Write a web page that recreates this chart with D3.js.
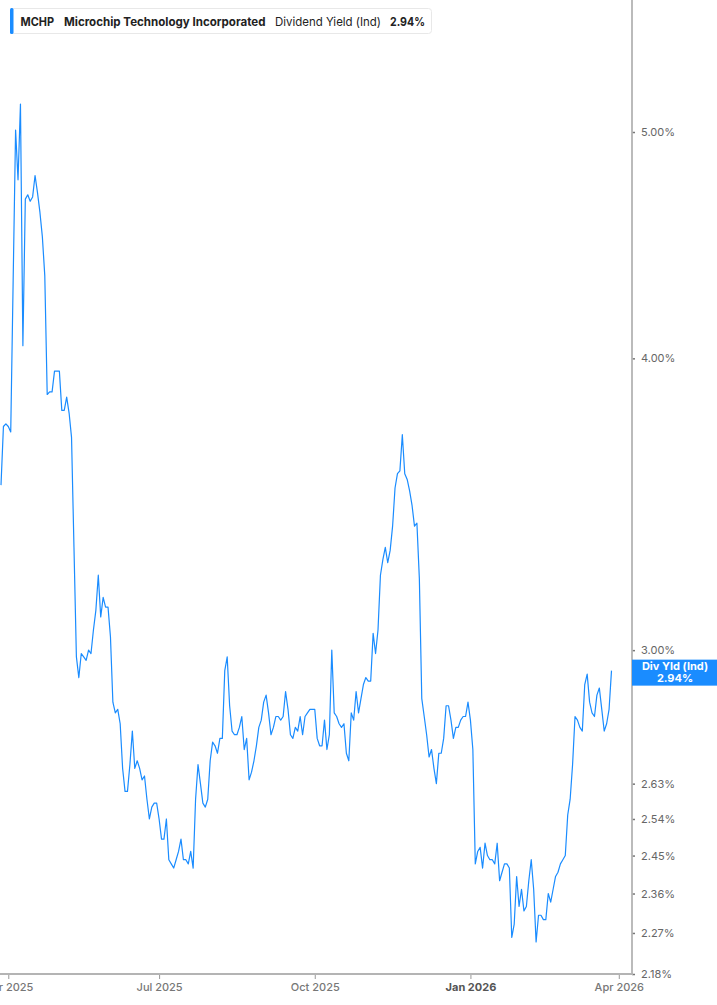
<!DOCTYPE html>
<html>
<head>
<meta charset="utf-8">
<script src="https://cdn.jsdelivr.net/npm/d3@7/dist/d3.min.js"></script>
<style>
  body { margin: 0; background: #fff; }
  svg { display: block; font-family: Inter, "Noto Sans", sans-serif; }
</style>
</head>
<body>
<svg></svg>
<script>
// MCHP dividend yield (indicated), one value per trading day, 27 Mar 2025 .. 27 Mar 2026
var yieldValues = [
    3.53, 3.74, 3.75, 3.74, 3.72, 4.32, 5.01, 4.77, 5.14, 4.05,
    4.68, 4.70, 4.67, 4.69, 4.79, 4.71, 4.62, 4.51, 4.34, 3.86,
    3.87, 3.87, 3.95, 3.95, 3.95, 3.80, 3.80, 3.85, 3.79, 3.70,
    3.32, 2.98, 2.92, 2.99, 2.98, 2.97, 3.00, 2.99, 3.06, 3.12,
    3.23, 3.10, 3.16, 3.13, 3.13, 3.04, 2.85, 2.82, 2.83, 2.79,
    2.67, 2.61, 2.61, 2.68, 2.77, 2.67, 2.69, 2.67, 2.64, 2.65,
    2.59, 2.54, 2.57, 2.58, 2.58, 2.54, 2.49, 2.49, 2.54, 2.44,
    2.43, 2.42, 2.44, 2.46, 2.49, 2.44, 2.44, 2.43, 2.46, 2.42,
    2.59, 2.68, 2.63, 2.58, 2.57, 2.59, 2.69, 2.74, 2.73, 2.71,
    2.75, 2.75, 2.94, 2.98, 2.84, 2.77, 2.76, 2.76, 2.78, 2.81,
    2.72, 2.75, 2.64, 2.66, 2.69, 2.73, 2.78, 2.80, 2.85, 2.87,
    2.82, 2.76, 2.78, 2.81, 2.81, 2.80, 2.81, 2.88, 2.83, 2.76,
    2.75, 2.78, 2.77, 2.81, 2.76, 2.81, 2.82, 2.83, 2.83, 2.83,
    2.75, 2.73, 2.73, 2.80, 2.72, 2.76, 3.00, 2.82, 2.81, 2.79,
    2.78, 2.79, 2.71, 2.69, 2.82, 2.80, 2.88, 2.82, 2.86, 2.90,
    2.92, 2.91, 2.91, 3.05, 2.99, 3.06, 3.23, 3.28, 3.32, 3.27,
    3.31, 3.39, 3.52, 3.57, 3.58, 3.71, 3.57, 3.55, 3.51, 3.46,
    3.39, 3.40, 3.22, 2.86, 2.81, 2.76, 2.70, 2.72, 2.67, 2.63,
    2.71, 2.71, 2.75, 2.84, 2.84, 2.80, 2.75, 2.78, 2.78, 2.80,
    2.81, 2.81, 2.85, 2.80, 2.72, 2.43, 2.46, 2.47, 2.42, 2.48,
    2.45, 2.44, 2.44, 2.43, 2.48, 2.39, 2.41, 2.43, 2.43, 2.42,
    2.26, 2.29, 2.40, 2.33, 2.37, 2.32, 2.33, 2.39, 2.44, 2.37,
    2.25, 2.31, 2.31, 2.30, 2.30, 2.36, 2.34, 2.37, 2.40, 2.41,
    2.43, 2.44, 2.45, 2.55, 2.59, 2.68, 2.81, 2.80, 2.78, 2.77,
    2.90, 2.93, 2.85, 2.82, 2.81, 2.87, 2.89, 2.83, 2.77, 2.79,
    2.83, 2.94
];

// x ticks sit on the trading-day index of the first session of each quarter
var xTickIndex = [3, 65, 129, 193, 254];
var xTickLabels = ["Apr 2025", "Jul 2025", "Oct 2025", "Jan 2026", "Apr 2026"];

var yTickValues = [2.18, 2.27, 2.36, 2.45, 2.54, 2.63, 3.00, 4.00, 5.00];

var ticker = "MCHP",
    company = "Microchip Technology Incorporated",
    metric = "Dividend Yield (Ind)",
    lastLabel = "Div Yld (Ind)";

var width = 717,
    height = 1005,
    plotRight = 632,
    plotBottom = 974;

var blue = "#1a8cff",
    axisGrey = "#b4b4b4",
    textGrey = "#666";

var svg = d3.select("svg")
    .attr("width", width)
    .attr("height", height);

var x = d3.scaleLinear()
    .domain([0, yieldValues.length - 1])
    .range([1, 611.5]);

var y = d3.scaleLog()
    .domain([2.18, 5.695])
    .range([plotBottom, 0]);

// line
var line = d3.line()
    .x(function(d, i) { return x(i); })
    .y(function(d) { return y(d); });

svg.append("path")
    .datum(yieldValues)
    .attr("fill", "none")
    .attr("stroke", blue)
    .attr("stroke-width", 1.2)
    .attr("stroke-linejoin", "round")
    .attr("d", line);

// right axis
var yAxis = d3.axisRight(y)
    .tickValues(yTickValues)
    .tickSize(3)
    .tickPadding(6)
    .tickFormat(function(d) { return d.toFixed(2) + "%"; });

var yAxisG = svg.append("g")
    .attr("transform", "translate(" + plotRight + ",0)")
    .call(yAxis);

yAxisG.select(".domain").remove();
yAxisG.selectAll(".tick line").attr("stroke", "#777").attr("stroke-width", 1.5);
yAxisG.selectAll(".tick text")
    .attr("fill", textGrey)
    .attr("font-size", 11)
    .attr("font-family", "Inter, sans-serif");

svg.append("line")
    .attr("x1", plotRight).attr("x2", plotRight)
    .attr("y1", 0).attr("y2", plotBottom)
    .attr("stroke", axisGrey)
    .attr("stroke-width", 1.8);

// bottom axis
var xAxis = d3.axisBottom(x)
    .tickValues(xTickIndex)
    .tickSize(5)
    .tickPadding(4)
    .tickFormat(function(d, i) { return xTickLabels[i]; });

var xAxisG = svg.append("g")
    .attr("transform", "translate(0," + plotBottom + ")")
    .call(xAxis);

xAxisG.select(".domain").remove();
xAxisG.selectAll(".tick line").attr("stroke", "#999");
xAxisG.selectAll(".tick text")
    .attr("fill", "#777")
    .attr("font-size", 11)
    .attr("font-weight", 500)
    .attr("font-family", "Inter, sans-serif")
    .filter(function(d, i) { return xTickLabels[i] === "Jan 2026"; })
    .attr("fill", "#555")
    .attr("font-weight", 700);

svg.append("line")
    .attr("x1", 0).attr("x2", plotRight + 1)
    .attr("y1", plotBottom).attr("y2", plotBottom)
    .attr("stroke", axisGrey)
    .attr("stroke-width", 1.8);

// last value tag on the right axis
var lastValue = yieldValues[yieldValues.length - 1],
    tagY = y(lastValue) + 2;

var tag = svg.append("g");
tag.append("rect")
    .attr("x", plotRight)
    .attr("y", tagY - 13)
    .attr("width", width - plotRight)
    .attr("height", 26)
    .attr("fill", blue);
tag.append("text")
    .attr("x", 675)
    .attr("y", tagY - 2.5)
    .attr("text-anchor", "middle")
    .attr("fill", "#fff")
    .attr("font-size", 11)
    .attr("font-weight", 700)
    .text(lastLabel);
tag.append("text")
    .attr("x", 675)
    .attr("y", tagY + 9.5)
    .attr("text-anchor", "middle")
    .attr("fill", "#fff")
    .attr("font-size", 11)
    .attr("font-weight", 700)
    .text(lastValue.toFixed(2) + "%");

// legend box
var legend = svg.append("g");
legend.append("rect")
    .attr("x", 10.5).attr("y", 8.5)
    .attr("width", 421).attr("height", 25)
    .attr("rx", 3)
    .attr("fill", "#fff")
    .attr("stroke", "#e8e8e8");
legend.append("rect")
    .attr("x", 10).attr("y", 8)
    .attr("width", 3.5).attr("height", 26)
    .attr("rx", 1.5)
    .attr("fill", blue);

var legendItems = [
    { text: ticker, x: 20.5, w: 33.5, weight: 700 },
    { text: company, x: 64, w: 201.5, weight: 700 },
    { text: metric, x: 275, w: 106, weight: 400 },
    { text: lastValue.toFixed(2) + "%", x: 390, w: 35, weight: 700 }
];

legend.selectAll("text")
    .data(legendItems)
    .enter()
    .append("text")
    .attr("x", function(d) { return d.x; })
    .attr("y", 25.5)
    .attr("font-size", 12)
    .attr("font-weight", function(d) { return d.weight; })
    .attr("textLength", function(d) { return d.w; })
    .attr("lengthAdjust", "spacingAndGlyphs")
    .attr("fill", "#222")
    .text(function(d) { return d.text; });
</script>
</body>
</html>
